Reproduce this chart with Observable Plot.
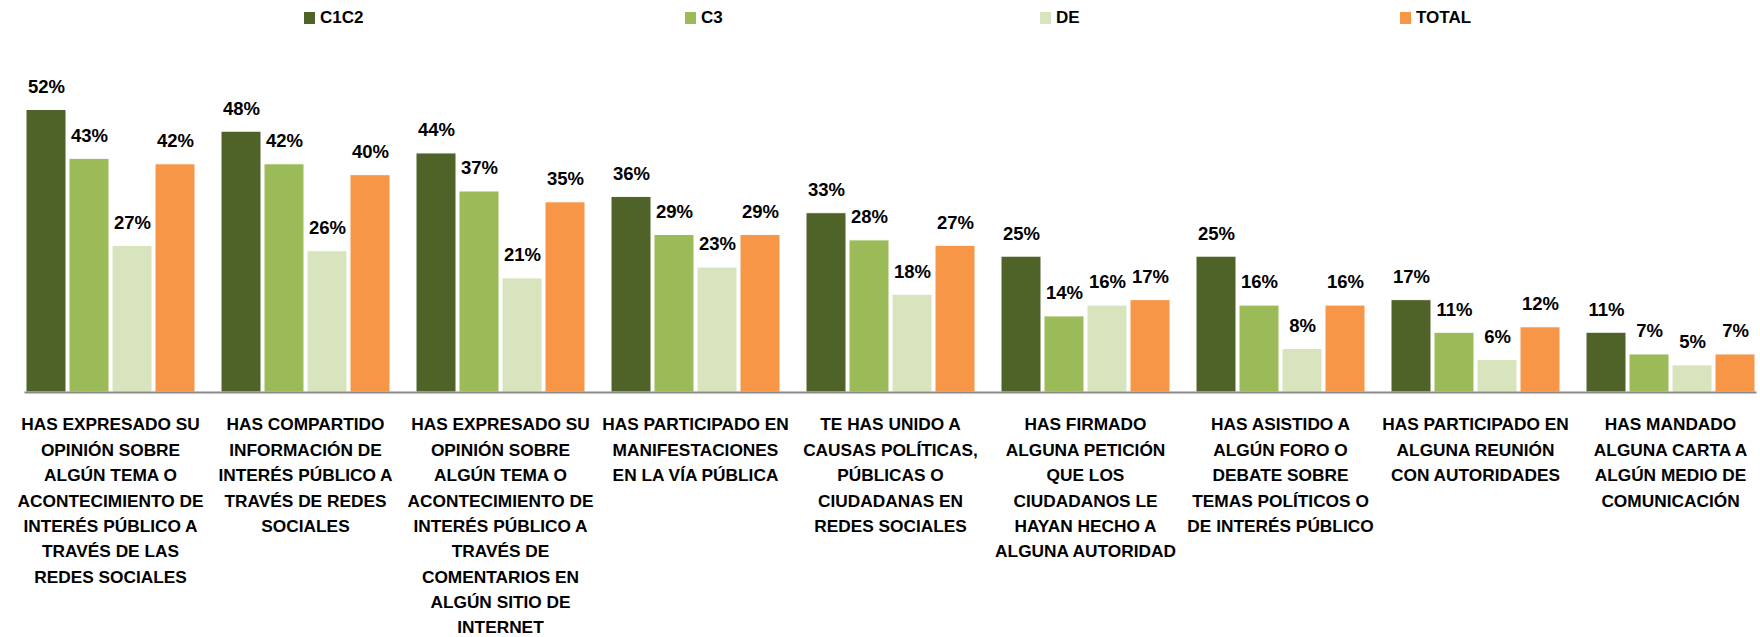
<!DOCTYPE html>
<html><head><meta charset="utf-8">
<script src="https://cdn.jsdelivr.net/npm/d3@7"></script>
<script src="https://cdn.jsdelivr.net/npm/@observablehq/plot@0.6"></script>
<style>
body{margin:0;background:#fff;font-family:"Liberation Sans",Arial,sans-serif;}
#legend{position:relative;height:36px;width:1760px;}
.item{position:absolute;top:0;height:36px;display:flex;align-items:center;font-weight:bold;font-size:17px;color:#000;}
.sw{width:11px;height:12px;margin-right:5px;}
</style></head><body>
<div id="legend"></div>
<div id="chart"></div>
<script>
const categories = [
  "HAS EXPRESADO SU\nOPINIÓN SOBRE\nALGÚN TEMA O\nACONTECIMIENTO DE\nINTERÉS PÚBLICO A\nTRAVÉS DE LAS\nREDES SOCIALES",
  "HAS COMPARTIDO\nINFORMACIÓN DE\nINTERÉS PÚBLICO A\nTRAVÉS DE REDES\nSOCIALES",
  "HAS EXPRESADO SU\nOPINIÓN SOBRE\nALGÚN TEMA O\nACONTECIMIENTO DE\nINTERÉS PÚBLICO A\nTRAVÉS DE\nCOMENTARIOS EN\nALGÚN SITIO DE\nINTERNET",
  "HAS PARTICIPADO EN\nMANIFESTACIONES\nEN LA VÍA PÚBLICA",
  "TE HAS UNIDO A\nCAUSAS POLÍTICAS,\nPÚBLICAS O\nCIUDADANAS EN\nREDES SOCIALES",
  "HAS FIRMADO\nALGUNA PETICIÓN\nQUE LOS\nCIUDADANOS LE\nHAYAN HECHO A\nALGUNA AUTORIDAD",
  "HAS ASISTIDO A\nALGÚN FORO O\nDEBATE SOBRE\nTEMAS POLÍTICOS O\nDE INTERÉS PÚBLICO",
  "HAS PARTICIPADO EN\nALGUNA REUNIÓN\nCON AUTORIDADES",
  "HAS MANDADO\nALGUNA CARTA A\nALGÚN MEDIO DE\nCOMUNICACIÓN"
];
const series = ["C1C2", "C3", "DE", "TOTAL"];
const c1c2  = [52, 48, 44, 36, 33, 25, 25, 17, 11];
const c3    = [43, 42, 37, 29, 28, 14, 16, 11, 7];
const de    = [27, 26, 21, 23, 18, 16, 8, 6, 5];
const total = [42, 40, 35, 29, 27, 17, 16, 12, 7];
const colors = ["#4F6228", "#9BBB59", "#D7E4BD", "#F79646"];
const legendLeft = [304, 685, 1040, 1400];

const FONT = '"Liberation Sans",Arial,sans-serif';
const valuesBySeries = [c1c2, c3, de, total];
const data = categories.flatMap((c, i) => series.map((s, j) => ({cat: c, series: s, value: valuesBySeries[j][i]})));

const legend = document.getElementById("legend");
series.forEach((s, j) => {
  const it = document.createElement("div");
  it.className = "item";
  it.style.left = legendLeft[j] + "px";
  it.innerHTML = `<span class="sw" style="background:${colors[j]}"></span><span>${s}</span>`;
  legend.appendChild(it);
});

const chart = Plot.plot({
  width: 1760, height: 601,
  marginLeft: 11, marginRight: 0, marginTop: 30, marginBottom: 245,
  style: {fontFamily: FONT, fontSize: "18px", color: "#000", background: "#fff"},
  fx: {domain: categories, paddingInner: 0.128, paddingOuter: 0.0485, align: 0.74, label: null},
  x: {domain: series, paddingInner: 0.077, paddingOuter: 0, axis: null},
  y: {domain: [0, 60], axis: null},
  color: {domain: series, range: colors},
  marks: [
    Plot.barY(data, {fx: "cat", x: "series", y: "value", fill: "series", stroke: "white", strokeWidth: 1}),
    Plot.text(data, {fx: "cat", x: "series", y: "value", text: d => d.value + "%", dy: -23, lineAnchor: "middle", fontWeight: "bold", fontSize: 18.5, fill: "#000"}),
    Plot.frame({anchor: "bottom", facet: "super", stroke: "#898989", strokeWidth: 2}),
    Plot.axisFx({anchor: "bottom", tickSize: 0, tickPadding: 20, fontSize: 17.3, fontWeight: "bold", lineHeight: 1.465, label: null, fill: "#000", tickFormat: d => d})
  ]
});
document.getElementById("chart").appendChild(chart);
</script>
</body></html>
